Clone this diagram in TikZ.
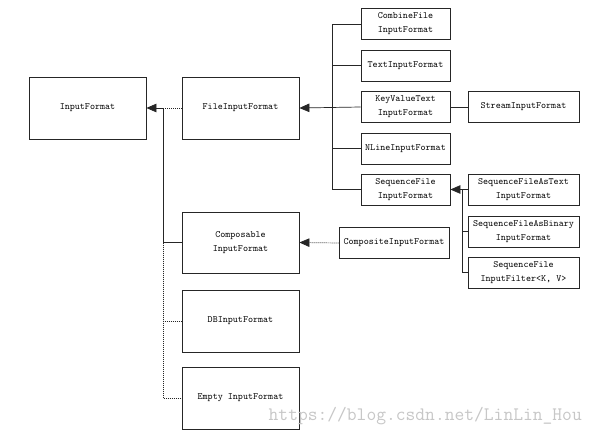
\documentclass[tikz,border=0pt]{standalone}
\usepackage{fontspec}
\usetikzlibrary{arrows.meta}
\begin{document}
\begin{tikzpicture}[x=1pt,y=-1pt,
  box/.style={draw=black!85,line width=0.8pt,align=center,inner sep=0pt,
    font=\ttfamily\fontsize{9.6}{14}\selectfont},
  bigbox/.style={box,minimum width=117pt,minimum height=62pt},
  smallbox/.style={box,minimum width=89pt,minimum height=31pt},
  widebox/.style={box,minimum width=111pt,minimum height=31pt},
  conn/.style={line width=0.7pt,draw=black!85},
  dots/.style={conn,dash pattern=on 1pt off 1pt},
  arr/.style={-{Triangle[length=10pt,width=8.5pt]}}]
\useasboundingbox (0,0) rectangle (594,436);
\fill[white] (0,0) rectangle (594,436);
% left column
\node[bigbox] (input) at (87.5,108) {InputFormat};
\node[bigbox] (file) at (240.5,108) {FileInputFormat};
\node[bigbox,minimum height=61pt] (comp) at (240.5,242.5) {Composable\\InputFormat};
\node[bigbox] (db) at (240.5,321) {DBInputFormat};
\node[bigbox] (empty) at (240.5,398) {Empty InputFormat};
% middle column
\node[smallbox] (combine) at (405.5,24) {CombineFile\\InputFormat};
\node[smallbox] (text) at (405.5,65.5) {TextInputFormat};
\node[smallbox] (kv) at (405.5,107) {KeyValueText\\InputFormat};
\node[smallbox] (nline) at (405.5,148.5) {NLineInputFormat};
\node[smallbox] (seq) at (405.5,189.5) {SequenceFile\\InputFormat};
\node[box,minimum width=110pt,minimum height=31pt] (composite) at (394,243) {CompositeInputFormat};
% right column
\node[widebox] (stream) at (523.5,107) {StreamInputFormat};
\node[widebox] (seqtext) at (523.5,189.5) {SequenceFileAsText\\InputFormat};
\node[widebox] (seqbin) at (523.5,231.5) {SequenceFileAsBinary\\InputFormat};
\node[widebox] (seqfilt) at (523.5,272.5) {SequenceFile\\InputFilter<K, V>};
% trunk coordinates
\coordinate (j1) at (163,108);
\coordinate (t2) at (332,0);
\coordinate (t3) at (462,0);
% left connectors
\draw[dots] (file.west) -- (j1);
\draw[conn,arr] (j1) -- (input.east);
\draw[conn] (j1) |- (comp.west);
\coordinate (j1c) at (j1 |- comp.west);
\draw[dots] (j1c) |- (db.west);
\draw[dots] (j1c) |- (empty.west);
% middle connectors
\draw[conn,arr] (kv.west) -- (file.east);
\draw[conn] (combine.west) -| (t2 |- seq.west) -- (seq.west);
\draw[conn] (text.west) -- (text.west -| t2);
\draw[conn] (nline.west) -- (nline.west -| t2);
\draw[conn] (kv.east) -- (stream.west);
\draw[dots,arr] (composite.west) -- (comp.east);
% right connectors
\draw[conn,arr] (seqtext.west) -- (seq.east);
\draw[conn] (seq.east -| t3) |- (seqfilt.west);
\draw[conn] (seqbin.west) -- (seqbin.west -| t3);
% watermark
\node[font=\ttfamily\fontsize{19}{20}\selectfont,text=black!22,anchor=east,inner sep=0pt] (wm) at (582,416) {https://blog.csdn.net/LinLin\_Hou};
\end{tikzpicture}
\end{document}
